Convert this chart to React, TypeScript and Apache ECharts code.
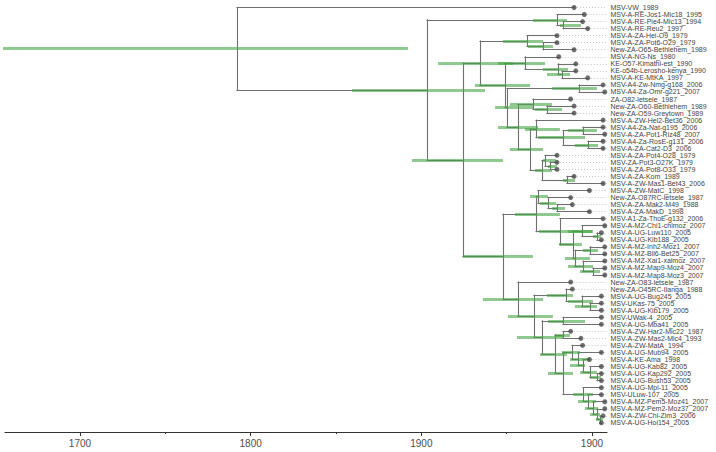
import React, { useEffect, useRef } from "react";
import * as echarts from "echarts";

// ---------- data ----------
const tipLabels = [
  "MSV-VW_1989", "MSV-A-RE-Jos1-Mic18_1995", "MSV-A-RE-Pie4-Mic13_1994", "MSV-A-RE-Reu2_1997",
  "MSV-A-ZA-Hei-O9_1979", "MSV-A-ZA-Pot6-O29_1979", "New-ZA-O65-Bethlehem_1989", "MSV-A-NG-Ns_1980",
  "KE-O57-Kimathi-est_1990", "KE-o54b-Lerosho-kenya_1990", "MSV-A-KE-MtKA_1997", "MSV-A4-Zw-Nmg-g168_2006",
  "MSV-A4-Za-Omr-g221_2007", "ZA-O82-letsele_1987", "New-ZA-O60-Bethlehem_1989", "New-ZA-O59-Greytown_1989",
  "MSV-A-ZW-Hel2-Bet36_2006", "MSV-A4-Za-Nat-g195_2006", "MSV-A-ZA-Pot1-Riz48_2007", "MSV-A4-Za-RosE-g131_2006",
  "MSV-A-ZA-Cat2-D3_2006", "MSV-A-ZA-Pot4-O28_1979", "MSV-ZA-Pot3-O27K_1979", "MSV-A-ZA-Pot8-O33_1979",
  "MSV-A-ZA-Kom_1989", "MSV-A-ZW-Mas1-Bet43_2006", "MSV-A-ZW-MatC_1998", "New-ZA-O87RC-letsele_1987",
  "MSV-A-ZA-Mak2-M49_1988", "MSV-A-ZA-MakD_1998", "MSV-A1-Za-ThoE-g132_2006", "MSV-A-MZ-Chi1-chimoz_2007",
  "MSV-A-UG-Luw110_2005", "MSV-A-UG-Kib188_2005", "MSV-A-MZ-Inh2-Moz1_2007", "MSV-A-MZ-Bil6-Bet25_2007",
  "MSV-A-MZ-Xai1-xaimoz_2007", "MSV-A-MZ-Map9-Moz4_2007", "MSV-A-MZ-Map8-Moz3_2007", "New-ZA-O83-letsele_1987",
  "New-ZA-O45RC-Ilanga_1988", "MSV-A-UG-Bug245_2005", "MSV-UKas-75_2005", "MSV-A-UG-Kib179_2005",
  "MSV-UWak-4_2005", "MSV-A-UG-Mba41_2005", "MSV-A-ZW-Har2-Mic22_1987", "MSV-A-ZW-Mas2-Mic4_1993",
  "MSV-A-ZW-MatA_1994", "MSV-A-UG-Mub94_2005", "MSV-A-KE-Ama_1998", "MSV-A-UG-Kab82_2005",
  "MSV-A-UG-Kap292_2005", "MSV-A-UG-Bush53_2005", "MSV-A-UG-Mpi-11_2005", "MSV-ULuw-107_2005",
  "MSV-A-MZ-Pem5-Moz41_2007", "MSV-A-MZ-Pem2-Moz37_2007", "MSV-A-ZW-Chi-Zim3_2006", "MSV-A-UG-Hoi154_2005",
];

const tipYears = [
  1989, 1995, 1994, 1997, 1979, 1979, 1989, 1980, 1990, 1990, 1997, 2006, 2007, 1987, 1989, 1989,
  2006, 2006, 2007, 2006, 2006, 1979, 1979, 1979, 1989, 2006, 1998, 1987, 1988, 1998, 2006, 2007,
  2005, 2005, 2007, 2007, 2007, 2007, 2007, 1987, 1988, 2005, 2005, 2005, 2005, 2005, 1987, 1993,
  1994, 2005, 1998, 2005, 2005, 2005, 2005, 2005, 2007, 2007, 2006, 2005,
];

const tipParents = [
  "root", "B", "B2", "B2", "F", "F2", "F2", "H", "I", "J", "J", "G", "G", "K", "K2", "K2",
  "Q1", "M2", "M2", "M3", "M3", "T3", "T3b", "T3b", "KM", "KM", "Y1", "Y", "Y2", "Y2", "T", "U1",
  "U1a", "U1a", "U2", "U2", "U3", "U3a", "U3a", "E2", "R1", "R1b", "R1c", "R1c", "R2a", "R2a", "R3a", "R3a",
  "R3b", "R3c", "R3d", "R3e", "R3f", "R3f", "R4", "R4b", "R4c", "R4d", "R4e", "R4e",
];

const nodeNames = [
  "root", "A", "B", "B2", "C", "D", "F", "F2", "L", "H", "I", "J", "L2", "G", "P", "K", "K2", "Q", "Q1", "M1",
  "M2", "M3", "N", "T3", "T3b", "KM", "E", "S", "Y1", "Y", "Y2", "T", "U", "U1", "U1a", "Ub", "U2", "U3", "U3a",
  "E2", "E2b", "R1", "R1b", "R1c", "R2", "R2a", "R2b", "R3a", "R2c", "R3b", "R3c", "R3d", "R3e", "R3f",
  "R4", "R4b", "R4c", "R4d", "R4e",
];

const nodeParents = [
  "", "root", "A", "B", "A", "C", "D", "F", "D", "L", "H", "I", "L", "L2", "L2", "P", "K", "P", "Q", "Q1",
  "M1", "M1", "Q", "N", "T3", "N", "C", "E", "S", "Y1", "Y", "S", "T", "U", "U1", "U", "Ub", "Ub", "U3",
  "E", "E2", "E2b", "R1", "R1b", "E2b", "R2", "R2", "R2b", "R2b", "R2c", "R3b", "R3c", "R3d", "R3e",
  "R2c", "R4", "R4b", "R4c", "R4d",
];

const nodeAges = [
  1792.0, 1903.3, 1979.5, 1983.0, 1924.4, 1934.4, 1961.9, 1971.3, 1949.0, 1960.7, 1980.1, 1982.4, 1950.2, 1992.4,
  1956.6, 1965.4, 1973.6, 1963.7, 1967.2, 1983.0, 1994.7, 1997.6, 1970.7, 1972.5, 1975.4, 1985.3, 1947.8, 1967.2,
  1968.4, 1974.2, 1979.5, 1981.2, 1988.9, 1994.1, 2002.9, 1990.0, 1998.8, 1994.7, 2000.6, 1956.6, 1966.0, 1984.8,
  1994.1, 1998.8, 1970.7, 1983.0, 1978.3, 1983.0, 1983.0, 1988.3, 1991.8, 1994.7, 1998.8, 2002.9, 1994.7, 1997.6,
  2000.6, 2002.9, 2004.7,
];

const nodeHpdLow = [
  1654.3, 1859.4, 1965.4, 1981.2, 1894.5, 1909.8, 1947.8, 1962.5, 1931.4, 1944.9, 1971.3, 1973.6, 1943.2, 1976.6,
  1944.9, 1951.9, 1966.6, 1951.9, 1960.7, 1968.4, 1985.9, 1990.0, 1966.6, 1971.3, 1974.2, 1983.0, 1924.4, 1954.9,
  1963.7, 1969.5, 1976.6, 1968.9, 1980.7, 1985.9, 2000.6, 1984.2, 1994.7, 1985.9, 1993.0, 1936.1, 1950.8, 1973.6,
  1985.9, 1990.0, 1956.0, 1974.2, 1969.5, 1978.3, 1974.2, 1982.4, 1987.1, 1987.1, 1993.0, 1998.8, 1988.9, 1991.8,
  1995.9, 1998.8, 2002.3,
];

const nodeHpdHigh = [
  1892.2, 1937.3, 1985.3, 1993.5, 1947.8, 1953.7, 1971.3, 1977.1, 1963.7, 1972.5, 1985.9, 1987.1, 1965.4, 2002.9,
  1968.4, 1976.6, 1982.4, 1971.3, 1981.2, 1995.9, 2002.9, 2003.5, 1976.6, 1978.9, 1979.5, 1990.0, 1965.4, 1981.2,
  1974.2, 1978.9, 1984.2, 2000.0, 1994.1, 2000.6, 2005.3, 1998.8, 2003.5, 2000.6, 2004.7, 1971.3, 1977.1, 1988.9,
  2000.6, 2002.9, 1983.0, 1995.9, 1985.3, 1987.1, 1988.9, 1993.0, 1998.8, 1995.9, 2002.9, 2005.3, 2000.6, 2002.3,
  2003.5, 2004.7, 2006.4,
];

const axisTickValues = [1700, 1800, 1900, 2000];
const axisTickLabels = ["1700", "1800", "1900", "1900"];
const axisMinorTicks = [1750, 1850, 1950];

// ---------- layout constants ----------
const X_MIN = 1656.06;
const X_MAX = 2008.79;
const Y_MIN = -1.065;
const Y_MAX = 60.3;

function buildOption() {
  const idx = new Map<string, number>();
  nodeNames.forEach((n, i) => idx.set(n, i));
  const kids: { tip: boolean; i: number }[][] = nodeNames.map(() => []);
  tipParents.forEach((p, i) => kids[idx.get(p)!].push({ tip: true, i }));
  nodeParents.forEach((p, i) => {
    if (p) kids[idx.get(p)!].push({ tip: false, i });
  });
  const nodeY: number[] = new Array(nodeNames.length);
  const span: [number, number][] = new Array(nodeNames.length);
  const yOf = (k: number): number => {
    if (nodeY[k] !== undefined) return nodeY[k];
    const ys = kids[k].map((c) => (c.tip ? c.i : yOf(c.i)));
    const lo = Math.min(...ys);
    const hi = Math.max(...ys);
    span[k] = [lo, hi];
    nodeY[k] = (lo + hi) / 2;
    return nodeY[k];
  };
  nodeNames.forEach((_, k) => yOf(k));

  const tipX = tipYears.map((y) => y + 0.5);

  const branches: any[] = [];
  nodeNames.forEach((_, k) => {
    branches.push({ coords: [[nodeAges[k], span[k][0]], [nodeAges[k], span[k][1]]] });
    const p = nodeParents[k];
    if (p) {
      const pa = nodeAges[idx.get(p)!];
      branches.push({ coords: [[pa, nodeY[k]], [nodeAges[k], nodeY[k]]] });
    }
  });
  tipParents.forEach((p, i) => {
    const pa = nodeAges[idx.get(p)!];
    branches.push({ coords: [[pa, i], [tipX[i], i]] });
  });

  const hpd = nodeNames.map((_, k) => ({
    coords: [[nodeHpdLow[k], nodeY[k]], [nodeHpdHigh[k], nodeY[k]]],
  }));

  const dotted = tipX.map((x, i) => ({ coords: [[x, i], [X_MAX, i]] }));

  return {
    animation: false,
    backgroundColor: "#ffffff",
    grid: { left: 5, right: 109, top: 0, bottom: 20, containLabel: false },
    xAxis: [
      {
        type: "value",
        min: X_MIN,
        max: X_MAX,
        position: "bottom",
        axisLine: { show: true, onZero: false, lineStyle: { color: "#333333", width: 1 } },
        axisTick: { show: true, length: 4, customValues: axisTickValues, lineStyle: { color: "#333333", width: 1 } },
        axisLabel: {
          show: true,
          customValues: axisTickValues,
          formatter: (v: number) => axisTickLabels[axisTickValues.indexOf(v)] ?? "",
          fontSize: 10,
          color: "#4d4d4d",
          margin: 6,
          fontFamily: "Liberation Sans",
        },
        splitLine: { show: false },
      },
      {
        type: "value",
        min: X_MIN,
        max: X_MAX,
        position: "bottom",
        offset: 0,
        axisLine: { show: false, onZero: false },
        axisTick: { show: true, length: 2, customValues: axisMinorTicks, lineStyle: { color: "#333333", width: 1 } },
        axisLabel: { show: false },
        splitLine: { show: false },
      },
    ],
    yAxis: { type: "value", min: Y_MIN, max: Y_MAX, inverse: true, show: false },
    series: [
      {
        type: "lines",
        coordinateSystem: "cartesian2d",
        silent: true,
        data: dotted,
        lineStyle: { color: "#b8b8b8", width: 0.8, type: [1, 2], opacity: 1 },
      },
      {
        type: "lines",
        coordinateSystem: "cartesian2d",
        silent: true,
        data: branches,
        lineStyle: { color: "#707070", width: 1.1, opacity: 1, cap: "square" },
      },
      {
        type: "lines",
        coordinateSystem: "cartesian2d",
        silent: true,
        data: hpd,
        lineStyle: { color: "rgb(70,165,70)", width: 3, opacity: 0.6 },
      },
      {
        type: "scatter",
        silent: true,
        data: tipX.map((x, i) => [x, i]),
        symbol: "circle",
        symbolSize: 5,
        itemStyle: { color: "#4a4a4a" },
      },
      {
        type: "scatter",
        silent: true,
        clip: false,
        data: tipLabels.map((name, i) => ({ value: [X_MAX, i], name })),
        symbol: "circle",
        symbolSize: 1,
        itemStyle: { color: "rgba(255,255,255,0)" },
        labelLayout: { hideOverlap: false },
        label: {
          show: true,
          position: "right",
          distance: 3,
          formatter: (p: any) => tipLabels[p.dataIndex],
          fontSize: 7,
          color: "#444444",
          opacity: 1,
          fontFamily: "Liberation Sans",
        },
      },
    ],
  };
}

export default function App() {
  const ref = useRef<HTMLDivElement>(null);
  useEffect(() => {
    if (!ref.current) return;
    const chart = echarts.init(ref.current, undefined, { renderer: "svg" });
    chart.setOption(buildOption() as any);
    return () => chart.dispose();
  }, []);
  return (
    <div
      ref={ref}
      style={{ position: "fixed", left: 0, top: 0, width: 716, height: 452, background: "#ffffff" }}
    />
  );
}
